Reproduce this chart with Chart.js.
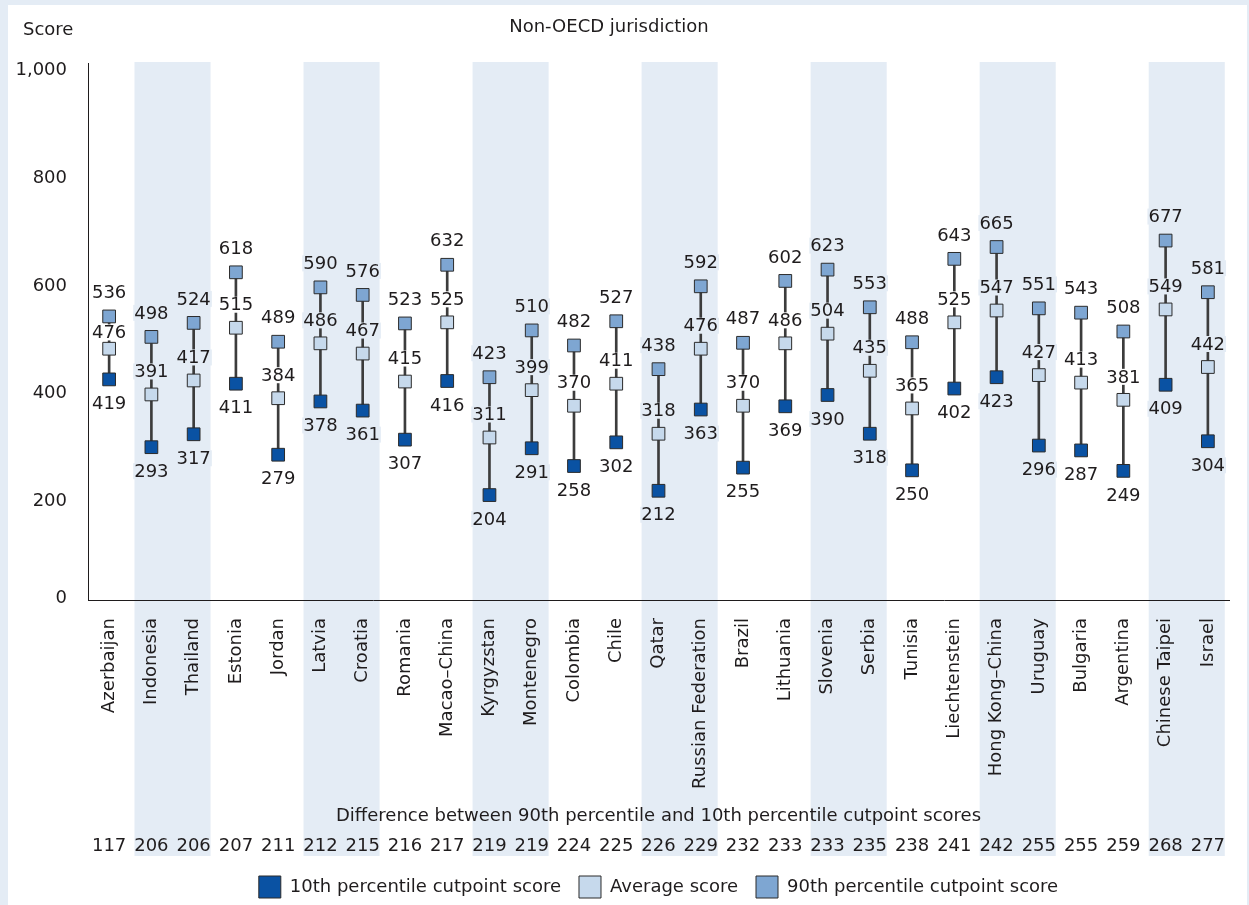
<!DOCTYPE html>
<html lang="en">
<head>
<meta charset="UTF-8">
<title>Non-OECD jurisdiction</title>
<script src="https://cdn.jsdelivr.net/npm/chart.js"></script>
<style>
    body {
        margin: 0;
        background-color: #e4ecf5;
    }
    #panel {
        position: absolute;
        left: 8px;
        top: 5px;
        width: 1239px;
        height: 900px;
        background-color: #ffffff;
    }
</style>
</head>
<body>
<div id="panel"><canvas id="chart" width="1239" height="900"></canvas></div>
<script>
// Data
const countries = ['Azerbaijan', 'Indonesia', 'Thailand', 'Estonia', 'Jordan', 'Latvia', 'Croatia', 'Romania',
    'Macao–China', 'Kyrgyzstan', 'Montenegro', 'Colombia', 'Chile', 'Qatar', 'Russian Federation', 'Brazil',
    'Lithuania', 'Slovenia', 'Serbia', 'Tunisia', 'Liechtenstein', 'Hong Kong–China', 'Uruguay', 'Bulgaria',
    'Argentina', 'Chinese Taipei', 'Israel'];
const p10 = [419, 293, 317, 411, 279, 378, 361, 307, 416, 204, 291, 258, 302, 212, 363, 255, 369, 390, 318, 250, 402, 423, 296, 287, 249, 409, 304];
const avg = [476, 391, 417, 515, 384, 486, 467, 415, 525, 311, 399, 370, 411, 318, 476, 370, 486, 504, 435, 365, 525, 547, 427, 413, 381, 549, 442];
const p90 = [536, 498, 524, 618, 489, 590, 576, 523, 632, 423, 510, 482, 527, 438, 592, 487, 602, 623, 553, 488, 643, 665, 551, 543, 508, 677, 581];
const diffs = [117, 206, 206, 207, 211, 212, 215, 216, 217, 219, 219, 224, 225, 226, 229, 232, 233, 233, 235, 238, 241, 242, 255, 255, 259, 268, 277];
const yTicks = [0, 200, 400, 600, 800, 1000];

const FONT = 'DejaVu Sans';
const TEXT = '#1f1c1d';
const BAND = '#e4ecf5';
const isBand = i => i % 4 === 1 || i % 4 === 2;

// shaded column pairs, drawn behind axes and marks
const bandsPlugin = {
    id: 'bands',
    beforeDraw(chart) {
        const { ctx, chartArea, scales: { x, x2 } } = chart;
        const step = x.getPixelForValue(1) - x.getPixelForValue(0);
        ctx.save();
        ctx.fillStyle = BAND;
        for (let i = 1; i < countries.length; i += 4) {
            const cx = (x.getPixelForValue(i) + x.getPixelForValue(i + 1)) / 2;
            const w = step * 1.8;
            ctx.fillRect(cx - w / 2, chartArea.top - 1, w, x2.bottom - 1 - chartArea.top);
        }
        ctx.restore();
    }
};

// value labels with a knock-out background over the connecting line
const valueLabels = {
    id: 'valueLabels',
    afterDatasetsDraw(chart) {
        const { ctx, scales: { x, y } } = chart;
        ctx.save();
        ctx.font = '18px "' + FONT + '"';
        ctx.textAlign = 'center';
        ctx.textBaseline = 'middle';
        const put = (txt, cx, cy, bg) => {
            const w = ctx.measureText(txt).width;
            ctx.fillStyle = bg;
            ctx.fillRect(cx - w / 2 - 1, cy - 8, w + 2, 16);
            ctx.fillStyle = TEXT;
            ctx.fillText(txt, cx, cy + 1);
        };
        countries.forEach((c, i) => {
            const cx = x.getPixelForValue(i);
            const bg = isBand(i) ? BAND : '#ffffff';
            const hy = y.getPixelForValue(p90[i]);
            const ay = y.getPixelForValue(avg[i]);
            const ly = y.getPixelForValue(p10[i]);
            put(String(p90[i]), cx, hy - 24, bg);
            put(String(avg[i]), cx, Math.max(ay - 23, hy + 16), bg);
            put(String(p10[i]), cx, ly + 24, bg);
        });
        ctx.restore();
    }
};

const headings = {
    id: 'headings',
    afterDraw(chart) {
        const { ctx } = chart;
        ctx.save();
        ctx.font = '18px "' + FONT + '"';
        ctx.fillStyle = TEXT;
        ctx.textBaseline = 'middle';
        ctx.textAlign = 'left';
        ctx.fillText('Score', 15, 25);
        ctx.textAlign = 'center';
        ctx.fillText('Non-OECD jurisdiction', 601, 22);
        ctx.restore();
    }
};

const markerDefaults = {
    type: 'line',
    showLine: false,
    pointStyle: 'rect',
    pointRadius: 9,
    pointBorderWidth: 1,
    pointBorderColor: '#2b2b2b',
    borderColor: '#2b2b2b',
    borderWidth: 1,
    order: 0
};

new Chart(document.getElementById('chart'), {
    type: 'bar',
    data: {
        labels: countries,
        datasets: [
            { ...markerDefaults, label: '10th percentile cutpoint score', data: p10, backgroundColor: '#0a52a3', pointBackgroundColor: '#0a52a3' },
            { ...markerDefaults, label: 'Average score', data: avg, backgroundColor: '#c6d9ec', pointBackgroundColor: '#c6d9ec' },
            { ...markerDefaults, label: '90th percentile cutpoint score', data: p90, backgroundColor: '#7ea6d2', pointBackgroundColor: '#7ea6d2' },
            {
                label: 'range',
                data: p10.map((v, i) => [v, p90[i]]),
                backgroundColor: '#3c3c3c',
                barThickness: 2,
                order: 5
            }
        ]
    },
    options: {
        responsive: false,
        animation: false,
        events: [],
        layout: { padding: { top: 58, right: 18, bottom: 0, left: 0 } },
        plugins: {
            tooltip: { enabled: false },
            legend: {
                position: 'bottom',
                fullSize: false,
                maxHeight: 47,
                labels: {
                    filter: item => item.datasetIndex < 3,
                    boxWidth: 22,
                    boxHeight: 22,
                    padding: 18,
                    color: TEXT,
                    font: { family: FONT, size: 18 }
                }
            }
        },
        scales: {
            x: {
                grid: { display: false },
                border: { display: true, color: TEXT, width: 1 },
                ticks: {
                    autoSkip: false,
                    minRotation: 90,
                    maxRotation: 90,
                    padding: 10,
                    color: TEXT,
                    font: { family: FONT, size: 18 }
                },
                title: {
                    display: true,
                    text: 'Difference between 90th percentile and 10th percentile cutpoint scores',
                    color: TEXT,
                    font: { family: FONT, size: 18 },
                    padding: { top: 0, bottom: 0 }
                },
                afterFit: s => { s.height = 227; }
            },
            x2: {
                type: 'category',
                position: 'bottom',
                labels: diffs.map(String),
                offset: true,
                grid: { display: false },
                border: { display: false },
                ticks: {
                    autoSkip: false,
                    maxRotation: 0,
                    padding: 1,
                    color: TEXT,
                    font: { family: FONT, size: 18 }
                },
                afterFit: s => { s.height = 31; }
            },
            y: {
                min: 9,
                max: 1007,
                grid: { display: false },
                border: { display: true, color: TEXT, width: 1 },
                afterBuildTicks: s => { s.ticks = yTicks.map(v => ({ value: Math.max(v, s.min + 10) })); },
                ticks: {
                    padding: 13,
                    labelOffset: 4,
                    color: TEXT,
                    font: { family: FONT, size: 18 },
                    callback: (v, i) => yTicks[i].toLocaleString('en-US')
                },
                afterFit: s => { s.width = 80; }
            }
        }
    },
    plugins: [bandsPlugin, valueLabels, headings]
});
</script>
</body>
</html>
